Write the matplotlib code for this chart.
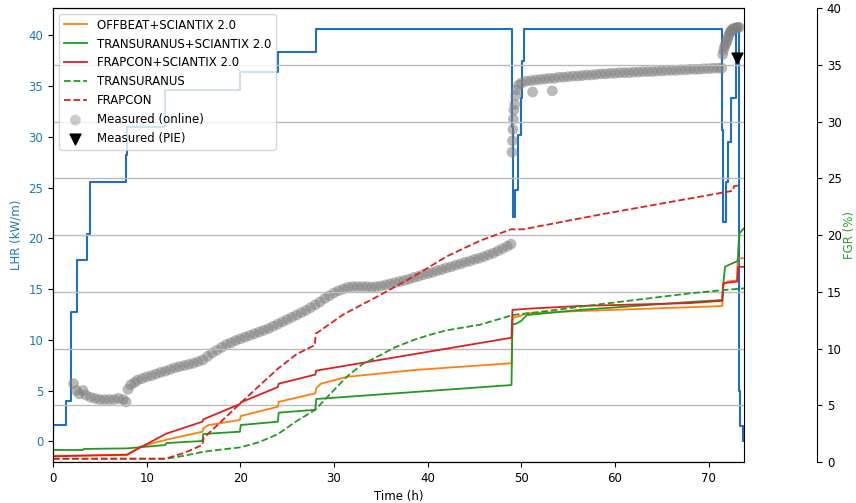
import matplotlib
matplotlib.use("Agg")
import matplotlib.pyplot as plt

plt.rcParams['font.family'] = ['DejaVu Sans']
FS = 8.5

# ---- LHR history (left axis, kW/m), step function (post) ----
lhr_t = [0, 1.35, 1.9, 2.55, 3.65, 3.9, 7.8, 7.9, 12.0, 20.0, 24.05, 28.05,
         49.04, 49.1, 49.35, 49.6, 49.95, 50.05, 50.3,
         71.42, 71.55, 71.9, 72.1, 72.35, 72.9, 73.25, 73.3, 73.65, 73.77]
lhr_v = [1.57, 3.96, 12.7, 17.9, 20.4, 25.5, 28.2, 31.0, 34.6, 36.4, 38.3, 40.65,
         31.0, 22.1, 24.8, 30.2, 33.8, 37.5, 40.6,
         30.7, 21.65, 25.5, 29.5, 33.8, 40.7, 5.0, 1.5, 0.0, 0.0]

# ---- FGR model curves (right axis, %) ----
off_t = [0, 7.9, 9.3, 12.0, 15.95, 16.05, 16.6, 19.95, 20.05, 24.0, 24.1, 28.0, 28.1,
         28.6, 31.4, 38.5, 48.95, 49.05, 49.15, 49.6, 50.6, 56.3, 71.45, 71.55, 72.0,
         73.0, 73.1, 73.77]
off_v = [0.55, 0.6, 1.35, 1.94, 2.67, 2.97, 3.25, 3.7, 4.05, 4.87, 5.3, 6.05, 6.5,
         6.9, 7.5, 8.1, 8.7, 12.36, 12.75, 12.8, 13.1, 13.3, 13.74, 15.6, 15.9,
         16.0, 17.95, 17.95]

frs_t = [0, 7.9, 12.1, 15.95, 16.05, 19.95, 20.05, 24.0, 24.1, 28.0, 28.1, 48.95,
         49.05, 50.6, 56.3, 68.0, 71.45, 71.55, 73.05, 73.15, 73.77]
frs_v = [0.5, 0.65, 2.5, 3.55, 3.76, 5.1, 5.25, 6.6, 6.9, 7.7, 8.05, 10.95,
         13.4, 13.5, 13.75, 14.0, 14.2, 15.75, 15.9, 17.2, 17.2]

trs_t = [0, 3.2, 3.3, 7.9, 12.0, 12.1, 15.95, 16.05, 19.95, 20.05, 24.0, 24.1,
         28.0, 28.1, 48.95, 49.05, 49.5, 50.0, 50.6, 56.3, 68.0, 71.45, 71.6,
         71.75, 72.1, 72.8, 73.1, 73.2, 73.3, 73.77]
trs_v = [1.06, 1.06, 1.15, 1.2, 1.5, 1.67, 1.85, 2.47, 2.67, 3.26, 3.55, 4.35,
         4.6, 5.55, 6.78, 12.13, 12.2, 12.45, 12.95, 13.4, 14.1, 14.27, 16.0,
         17.2, 17.35, 17.6, 17.7, 19.3, 20.15, 20.6]

tu_t = [0, 12.1, 14.0, 16.05, 18.0, 20.0, 22.0, 24.0, 26.0, 28.0, 29.6, 31.35,
        33.0, 34.9, 36.5, 38.5, 40.0, 42.0, 45.6, 49.1, 52.7, 58.4, 68.0, 71.6, 73.77]
tu_v = [0.29, 0.29, 0.55, 0.9, 1.1, 1.29, 1.75, 2.45, 3.6, 4.6, 6.0, 7.5,
        8.6, 9.4, 10.1, 10.75, 11.15, 11.6, 12.1, 12.95, 13.3, 13.9, 14.86, 15.15, 15.3]

fr_t = [0, 12.0, 14.0, 15.95, 16.05, 18.0, 20.0, 22.0, 24.05, 26.0, 27.95, 28.05,
        31.0, 34.9, 38.5, 42.0, 45.6, 48.9, 50.2, 58.4, 72.6, 72.7, 73.4]
fr_v = [0.29, 0.29, 0.8, 1.5, 2.09, 3.6, 5.17, 6.7, 8.25, 9.5, 10.3, 11.3,
        13.0, 14.7, 16.35, 18.1, 19.5, 20.5, 20.5, 21.8, 23.9, 24.3, 24.4]

# ---- Measured online FGR (%) ----
meas_t = [2.2, 2.5, 2.8, 3.2, 3.5, 4.0, 4.5, 5.0, 5.5, 6.0, 6.5, 7.0, 7.5, 7.8,
          8.0, 8.3, 8.7, 9.0, 9.5, 10.0, 10.5, 11.0, 11.5, 12.0, 12.5, 13.0, 13.5,
          14.0, 14.5, 15.0, 15.5, 16.0, 16.5, 17.0, 17.5, 18.0, 18.5, 19.0, 19.5,
          20.0, 20.5, 21.0, 21.5, 22.0, 22.5, 23.0, 23.5, 24.0, 24.5, 25.0, 25.5,
          26.0, 26.5, 27.0, 27.5, 28.0, 28.5, 29.0, 29.5, 30.0, 30.5, 31.0, 31.5,
          32.0, 32.5, 33.0, 33.5, 34.0, 34.5, 35.0, 35.5, 36.0, 36.5, 37.0, 37.5,
          38.0, 38.5, 39.0, 39.5, 40.0, 40.5, 41.0, 41.5, 42.0, 42.5, 43.0, 43.5,
          44.0, 44.5, 45.0, 45.5, 46.0, 46.5, 47.0, 47.5, 48.0, 48.5, 48.9,
          49.0, 49.05, 49.1, 49.15, 49.2, 49.3, 49.4, 49.5, 49.7, 50.0, 50.5,
          51.0, 51.2, 51.5, 52.0, 52.5, 53.0, 53.3, 53.5, 54.0, 54.5, 55.0, 55.5,
          56.0, 56.5, 57.0, 57.5, 58.0, 58.5, 59.0, 59.5, 60.0, 60.5, 61.0, 61.5,
          62.0, 62.5, 63.0, 63.5, 64.0, 64.5, 65.0, 65.5, 66.0, 66.5, 67.0, 67.5,
          68.0, 68.5, 69.0, 69.5, 70.0, 70.5, 71.0, 71.4, 71.5, 71.6, 71.7, 71.8,
          71.9, 72.0, 72.1, 72.2, 72.3, 72.4, 72.5, 72.65, 72.8, 72.95, 73.1, 73.25]
meas_v = [6.9, 6.3, 6.0, 6.3, 5.9, 5.7, 5.6, 5.5, 5.5, 5.5, 5.5, 5.6, 5.5, 5.3,
          6.4, 6.8, 7.0, 7.2, 7.35, 7.5, 7.6, 7.75, 7.9, 8.0, 8.15, 8.3, 8.4,
          8.5, 8.6, 8.7, 8.85, 9.0, 9.3, 9.6, 9.85, 10.1, 10.35, 10.5, 10.7,
          10.85, 11.0, 11.15, 11.3, 11.45, 11.6, 11.75, 11.95, 12.15, 12.35, 12.55, 12.75,
          12.95, 13.15, 13.35, 13.6, 13.85, 14.1, 14.4, 14.65, 14.9, 15.1, 15.25, 15.4,
          15.45, 15.45, 15.45, 15.45, 15.4, 15.45, 15.5, 15.6, 15.7, 15.8, 15.9, 16.0,
          16.1, 16.25, 16.35, 16.5, 16.6, 16.7, 16.85, 16.95, 17.1, 17.2, 17.35, 17.45,
          17.6, 17.7, 17.85, 17.95, 18.1, 18.25, 18.4, 18.6, 18.8, 19.0, 19.2,
          27.3, 28.3, 29.3, 30.2, 31.0, 31.5, 32.3, 32.8, 33.2, 33.4, 33.55,
          33.6, 32.6, 33.65, 33.7, 33.75, 33.8, 32.7, 33.8, 33.9, 33.9, 33.95, 34.0,
          34.0, 34.05, 34.1, 34.1, 34.15, 34.2, 34.2, 34.25, 34.25, 34.3, 34.3, 34.3,
          34.35, 34.35, 34.4, 34.4, 34.4, 34.45, 34.45, 34.5, 34.5, 34.5, 34.55, 34.55,
          34.6, 34.6, 34.6, 34.65, 34.65, 34.7, 34.7, 34.7, 35.9, 36.3, 36.6, 36.8,
          37.0, 37.2, 37.5, 37.7, 37.9, 38.0, 38.1, 38.2, 38.2, 38.25, 38.3, 38.3]

# ---- Measured PIE ----
pie_t = [73.0]
pie_v = [35.6]

blue = '#1f6fc0'
c_orange = '#ff7f0e'
c_green = '#229a22'
c_red = '#dd2020'

fig = plt.figure(figsize=(8.56, 5.03), dpi=100)
ax1 = fig.add_axes([53/856, 41/503, (744-53)/856, (462-8)/503])
ax2 = ax1.twinx()

ax1.step(lhr_t, lhr_v, where='post', color=blue, lw=1.5)
ax1.set_xlim(0, 73.77)
ax1.set_ylim(-2.03, 42.68)
ax1.set_yticks(range(0, 41, 5))
ax1.set_xticks(range(0, 71, 10))
ax1.tick_params(axis='y', labelcolor='#1f77b4', labelsize=FS)
ax1.tick_params(axis='x', labelsize=FS)
ax1.set_ylabel('LHR (kW/m)', color='#1f77b4', fontsize=FS)
ax1.set_xlabel('Time (h)', fontsize=FS)

ax2.plot(off_t, off_v, color=c_orange, lw=1.3, label='OFFBEAT+SCIANTIX 2.0')
ax2.plot(trs_t, trs_v, color=c_green, lw=1.3, label='TRANSURANUS+SCIANTIX 2.0')
ax2.plot(frs_t, frs_v, color=c_red, lw=1.3, label='FRAPCON+SCIANTIX 2.0')
ax2.plot(tu_t, tu_v, color=c_green, lw=1.3, ls='--', label='TRANSURANUS')
ax2.plot(fr_t, fr_v, color=c_red, lw=1.3, ls='--', label='FRAPCON')
ax2.scatter(meas_t, meas_v, s=60, color='grey', alpha=0.55, edgecolors='none',
            label='Measured (online)')
ax2.scatter(pie_t, pie_v, s=60, marker='v', color='black', label='Measured (PIE)',
            zorder=5)
ax2.set_ylim(0, 40)
ax2.set_yticks(range(0, 41, 5))
ax2.spines['right'].set_position(('outward', 52.6))
ax2.tick_params(axis='y', labelsize=FS)
ax2.set_ylabel('FGR (%)', color='#2ca02c', fontsize=FS, labelpad=1)
ax2.grid(True, axis='y', color='#bbbbbb', lw=1.0)
leg = ax2.legend(loc='upper left', fontsize=FS)
for h in leg.legend_handles[5:6]:
    h.set_alpha(0.4)

fig.savefig('out.png', dpi=100)
